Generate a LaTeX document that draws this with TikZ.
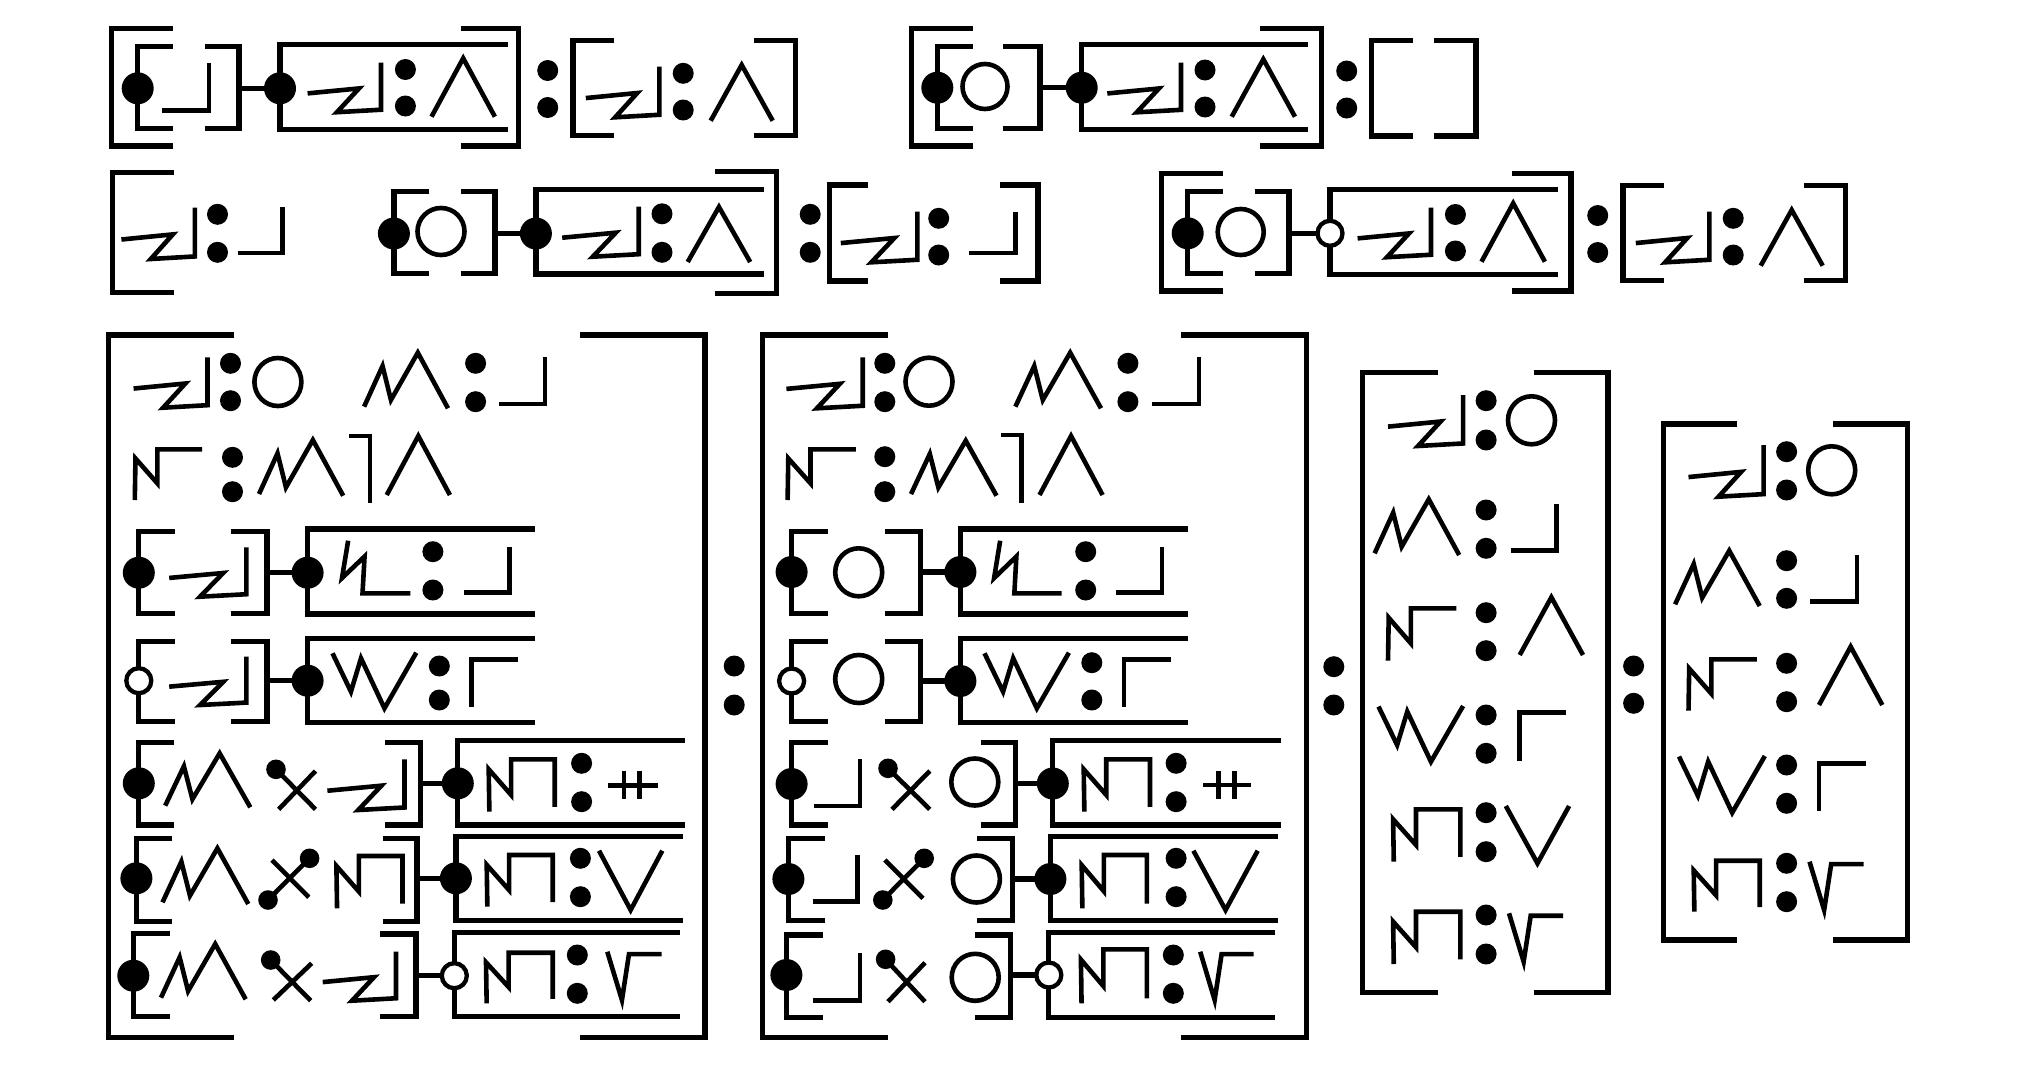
\documentclass[tikz,border=0pt]{standalone}
\tikzset{
  brk/.style={line width=5.3pt,line join=miter},
  glstroke/.style={line width=4.6pt,line join=miter},
}
\newcommand\mybr[4]{\draw[brk] (#4,#2)--(#1,#2)--(#1,#3)--(#4,#3);}
\newcommand\mycol[3]{\fill (#1,#2) circle[radius=10.5pt] (#1,#3) circle[radius=10.5pt];}
\newcommand\fdot[2]{\fill (#1,#2) circle[radius=16pt];}
\newcommand\hdot[2]{\draw[line width=4.3pt,fill=white] (#1,#2) circle[radius=12.5pt];}
\newcommand\ball[2]{\fill (#1,#2) circle[radius=9.8pt];}
\newcommand\ring[4]{\draw[glstroke] (#1,#2) ellipse[x radius=#3pt,y radius=#4pt];}
\newcommand\gZig[4]{\draw[glstroke,shift={(#1,#2)},xscale=#3,yscale=#4] (0,0.62)--(0.70,0.52)--(0.40,1)--(1,0.95)--(1,0);}
\newcommand\gM[4]{\draw[glstroke,shift={(#1,#2)},xscale=#3,yscale=#4] (0,0.97)--(0.22,0.24)--(0.32,0.85)--(0.64,0)--(1,1);}
\newcommand\gNbar[4]{\draw[glstroke,shift={(#1,#2)},xscale=#3,yscale=#4] (0,1)--(0.01,0.18)--(0.335,0.67)--(0.335,0)--(1,0);}
\newcommand\gNcap[4]{\draw[glstroke,shift={(#1,#2)},xscale=#3,yscale=#4] (0.01,1)--(0,0.19)--(0.34,0.68)--(0.34,0)--(1,0)--(1,0.91);}
\newcommand\gBolt[4]{\draw[glstroke,shift={(#1,#2)},xscale=#3,yscale=#4] (0.09,0)--(0,0.71)--(0.33,0.30)--(0.30,1)--(1,1);}
\newcommand\gW[4]{\draw[glstroke,shift={(#1,#2)},xscale=#3,yscale=#4] (0,0.01)--(0.22,0.70)--(0.34,0.10)--(0.62,1)--(1,0);}
\newcommand\gLam[4]{\draw[glstroke,shift={(#1,#2)},xscale=#3,yscale=#4] (0,1)--(0.5,0)--(1,1);}
\newcommand\gV[4]{\draw[glstroke,shift={(#1,#2)},xscale=#3,yscale=#4] (0,0)--(0.5,1)--(1,0);}
\newcommand\gSqrt[4]{\draw[glstroke,shift={(#1,#2)},xscale=#3,yscale=#4] (0,0)--(0.27,1)--(0.40,0.05)--(1,0.05);}
\begin{document}
\begin{tikzpicture}[x=1pt,y=-1pt]
\fill[white] (0,0) rectangle (2031,1079);
\useasboundingbox (0,0) rectangle (2031,1079);

% ===== Row 1, group A =====
\mybr{111.5}{28.3}{146}{172.5}
\mybr{518.8}{28.3}{146}{460.5}
\mybr{137.7}{46.7}{128.3}{172.5}
\draw[glstroke] (162,110.3)--(208.8,110.3)--(208.8,62.7);
\mybr{239.1}{46.7}{128.3}{204.7}
\draw[brk] (239.1,88.3)--(280,88.3);
\mybr{280}{44.5}{129.3}{507.7}
\fdot{137.7}{88.3} \fdot{280}{88.3}
\gZig{307.6}{62.7}{73.4}{49.5}
\mycol{405.4}{69.5}{106}
\gLam{431.5}{58.3}{63.4}{58.4}
\mycol{547.7}{70.5}{107.5}
\mybr{573}{40.7}{135.8}{614.3}
\gZig{585.8}{66.7}{73.5}{50.6}
\mycol{683.2}{73.3}{110}
\gLam{710.7}{65}{62}{55.7}
\mybr{795.7}{40.7}{135.8}{754.3}

% ===== Row 1, group B =====
\mybr{911.7}{28.3}{146}{972.7}
\mybr{1321.7}{28.3}{146}{1260}
\mybr{937.3}{46.7}{128.3}{972.7}
\ring{985}{86.5}{22.5}{22.5}
\mybr{1040}{46.7}{128.3}{1003.3}
\draw[brk] (1040,87.7)--(1081.7,87.7);
\mybr{1081.7}{44.8}{129.2}{1308.3}
\fdot{937.3}{87.7} \fdot{1081.7}{87.7}
\gZig{1107.3}{62.7}{73.7}{49.6}
\mycol{1205}{70}{107}
\gLam{1231.7}{59.3}{63.3}{57.4}
\mycol{1346.7}{71}{108}
\mybr{1371.7}{40.7}{136}{1412.8}
\mybr{1476}{40.7}{136}{1433.9}

% ===== Row 2, group C =====
\mybr{112.2}{172.5}{292.7}{173.5}
\gZig{121.4}{207.7}{73.5}{51.3}
\mycol{217.5}{214.3}{252.3}
\draw[glstroke] (237.7,253)--(282.4,253)--(282.4,206.7);

% ===== Row 2, group D =====
\mybr{393.9}{191.7}{273.3}{429.4}
\ring{441}{231.5}{23.5}{23.5}
\mybr{494.9}{191.7}{273.3}{461.2}
\draw[brk] (494.9,233.5)--(535.9,233.5);
\mybr{535.9}{189.5}{274}{764.2}
\fdot{393.9}{233.5} \fdot{535.9}{233.5}
\gZig{562.2}{206.7}{76.5}{50}
\mycol{662}{213.8}{252.3}
\gLam{687.7}{207}{62.5}{55}
\mybr{776.5}{171.7}{293.3}{715.3}
\mycol{810.2}{214.3}{252.3}
\mybr{829.8}{185}{281}{868.3}
\gZig{840.8}{211.7}{76.5}{50.6}
\mycol{938.7}{218.3}{255}
\draw[glstroke] (969.3,253)--(1015.2,253)--(1015.2,211.7);
\mybr{1037.9}{185}{281}{999.9}

% ===== Row 2, group E =====
\begin{scope}[shift={(1050,145)}]
\mybr{111.5}{28.3}{146}{172.5}
\mybr{521}{28.3}{146}{462}
\mybr{137.7}{46.7}{128.3}{172.5}
\ring{190.7}{87}{23}{23}
\mybr{239.1}{46.7}{128.3}{204.7}
\draw[brk] (239.1,88.3)--(280,88.3);
\mybr{280}{44.5}{129.3}{507.7}
\fdot{137.7}{88.3} \hdot{280}{88.3}
\gZig{307.6}{62.7}{73.4}{49.5}
\mycol{405.4}{69.5}{106}
\gLam{431.5}{58.3}{63.4}{58.4}
\mycol{547.7}{70.5}{107.5}
\mybr{573}{40.7}{135.8}{614.3}
\gZig{585.8}{66.7}{73.5}{50.6}
\mycol{683.2}{73.3}{110}
\gLam{710.7}{65}{62}{55.7}
\mybr{795.7}{40.7}{135.8}{754.3}
\end{scope}

% ===== Panel 1 =====
\mybr{108.7}{335}{1037.5}{234.4}
\mybr{705}{335}{1037.5}{580.4}
% row 1
\gZig{133.6}{357.3}{73.9}{50.4}
\mycol{230.5}{363.3}{400.7}
\ring{277.9}{382}{23.5}{24}
\gM{364.1}{352.7}{83.9}{55.6}
\mycol{475.6}{363.3}{401.7}
\draw[glstroke] (499.4,404)--(544.8,404)--(544.8,357.3);
% row 2
\gNbar{134.8}{449.3}{67.2}{50.7}
\mycol{232.5}{457.3}{491.7}
\gM{259}{440}{84.2}{55.7}
\draw[glstroke] (349.1,436)--(370.1,436)--(370.1,502.7);
\gLam{386.7}{436}{63.2}{59}
% row 3
\mybr{138.8}{531.7}{613.3}{175.1}
\gZig{169.2}{547.3}{77.1}{49.4}
\mybr{266.9}{531.7}{613.3}{231.3}
\draw[brk] (266.9,572.7)--(307.6,572.7);
\mybr{307.6}{529}{614}{535}
\fdot{138.8}{572.7} \fdot{307.6}{572.7}
\gBolt{342}{540.7}{68.4}{52.6}
\mycol{432.9}{551.7}{590}
\draw[glstroke] (463.8,592.7)--(509.2,592.7)--(509.2,546.7);
% row 4
\mybr{138.8}{641.7}{721.7}{175.1}
\gZig{169.2}{656.7}{77.1}{48.3}
\mybr{266.9}{641.7}{721.7}{231.3}
\draw[brk] (266.9,680.7)--(307.6,680.7);
\mybr{307.6}{638.5}{722.7}{535}
\hdot{138.8}{680.7} \fdot{307.6}{680.7}
\gW{332.5}{652.7}{83.8}{55.6}
\mycol{439.3}{666}{700}
\draw[glstroke] (471.7,706.7)--(471.7,659.3)--(518.3,659.3);
% row 5
\mybr{138.8}{742.7}{825}{174.3}
\gM{165.2}{753.3}{85.1}{54}
\draw[glstroke] (276,769.3)--(315.5,809.3) (278.7,809.3)--(315.5,771);
\ball{276}{769.3}
\gZig{327.4}{759.3}{77.1}{50.7}
\mybr{420.3}{742.7}{825}{384.7}
\draw[brk] (420.3,783.3)--(457.8,783.3);
\mybr{457.8}{740.7}{825}{685.2}
\fdot{138.8}{783.3} \fdot{457.8}{783.3}
\gNcap{488.7}{759.3}{66}{52.4}
\mycol{581.6}{763.3}{801.7}
\draw[glstroke] (623.9,771)--(623.9,799.3) (639.7,771)--(639.7,799.3) (608.1,785.7)--(657.5,785.7);
% row 6
\mybr{136.4}{838.3}{921.7}{172.4}
\gM{162.5}{848.3}{85.8}{55.7}
\draw[glstroke] (272,860)--(308.8,897.3) (268,900)--(309.6,858.3);
\ball{268}{900} \ball{309.6}{858.3}
\gNcap{336.4}{856}{66.1}{52.3}
\mybr{417.1}{838.3}{921.7}{382.7}
\draw[brk] (417.1,878.3)--(455.9,878.3);
\mybr{455.9}{836.7}{920.7}{683.2}
\fdot{136.4}{878.3} \fdot{455.9}{878.3}
\gNcap{486.7}{855}{66}{51.7}
\mycol{580.4}{858.3}{896.7}
\gV{599}{850.7}{63.3}{59.3}
% row 7
\mybr{133.3}{933.3}{1016.7}{170}
\gM{161}{944}{84.7}{55.3}
\draw[glstroke] (270.7,960)--(310.7,1000.7) (273.3,1000)--(311.7,963.3);
\ball{270.7}{960}
\gZig{322.7}{951.7}{73.3}{49}
\mybr{416}{934}{1016.7}{380}
\draw[brk] (416,975.7)--(454.3,975.7);
\mybr{454.3}{932.7}{1016.7}{680.4}
\fdot{133.3}{975.7} \hdot{454.3}{975.7}
\gNcap{486}{952.7}{66.7}{50.6}
\mycol{577.3}{955}{993.3}
\gSqrt{607.3}{951.7}{54.2}{48.3}

\mycol{734.2}{666}{705}

% ===== Panel 2 =====
\mybr{762.3}{335}{1037.5}{888}
\mybr{1306.7}{335}{1037.5}{1181.4}
% row 1
\gZig{786.4}{357.3}{76.3}{51}
\mycol{884.8}{363.3}{401.7}
\ring{929}{381.7}{23.5}{24}
\gM{1015.4}{352.7}{85.6}{55.6}
\mycol{1127.9}{363.3}{401.7}
\draw[glstroke] (1152,404)--(1199,404)--(1199,357.3);
% row 2
\gNbar{787.6}{449.3}{68.3}{50.7}
\mycol{884.8}{456.7}{491.7}
\gM{911}{440.7}{85.5}{55}
\draw[glstroke] (1001.4,435)--(1021.4,435)--(1021.4,502.7);
\gLam{1039.5}{436}{63.1}{59}
% row 3
\mybr{791.6}{531.7}{613.3}{827.8}
\ring{858.7}{572.3}{23.5}{24}
\mybr{920.2}{531.7}{613.3}{884.8}
\draw[brk] (920.2,572)--(960.4,572);
\mybr{960.4}{529}{614}{1188.2}
\fdot{791.6}{572} \fdot{960.4}{572}
\gBolt{994.1}{540.7}{67.5}{52.6}
\mycol{1085.7}{551.7}{590}
\draw[glstroke] (1115.9,592.7)--(1162,592.7)--(1162,546.7);
% row 4
\mybr{791.6}{641.7}{721.7}{827.8}
\ring{858.7}{679}{23.5}{24}
\mybr{920.2}{641.7}{721.7}{884.8}
\draw[brk] (920.2,681)--(960.4,681);
\mybr{960.4}{638.5}{722.7}{1188.2}
\hdot{791.6}{681} \fdot{960.4}{681}
\gW{984.5}{652.7}{84.4}{55.6}
\mycol{1091.8}{662.7}{700}
\draw[glstroke] (1123.9,706.7)--(1123.9,659.3)--(1170.9,659.3);
% row 5
\mybr{791.6}{742.7}{825}{827.8}
\draw[glstroke] (813.7,806)--(859.9,806)--(859.9,759.3);
\draw[glstroke] (888,768.3)--(929.8,809.3) (892,809.3)--(929.8,771);
\ball{888}{768.3}
\ring{974.8}{782}{23.5}{23.5}
\mybr{1015.4}{742.7}{825}{980.5}
\draw[brk] (1015.4,783.5)--(1052.8,783.5);
\mybr{1052.8}{740.7}{825}{1280.6}
\fdot{791.6}{784} \fdot{1052.8}{783.5}
\gNcap{1083.7}{759.3}{66.3}{52.4}
\mycol{1176.1}{763.3}{801.7}
\draw[glstroke] (1218.3,771)--(1218.3,799.3) (1234.4,771)--(1234.4,799.3) (1203.1,785)--(1251.3,785);
% row 6
\mybr{788.4}{838.3}{920.7}{824.6}
\draw[glstroke] (812.5,901.7)--(857.5,901.7)--(857.5,855);
\draw[glstroke] (884.8,860)--(923,898.3) (882.8,900)--(924.2,858.3);
\ball{882.8}{900} \ball{924.2}{858.3}
\ring{976.4}{879}{23.5}{23.5}
\mybr{1012.6}{838.3}{920.7}{977.2}
\draw[brk] (1012.6,879)--(1050.4,879);
\mybr{1050.4}{836.7}{920.7}{1277.8}
\fdot{788.4}{879} \fdot{1050.4}{879}
\gNcap{1081.7}{855}{65.1}{53.3}
\mycol{1176.1}{858.3}{896.7}
\gV{1193.4}{850.7}{64.3}{59.3}
% row 7
\mybr{786.4}{935}{1017.3}{822.5}
\draw[glstroke] (813.3,1000.7)--(859.9,1000.7)--(859.9,953.3);
\draw[glstroke] (885.6,959.3)--(925,1001.7) (888,1001.7)--(925,962.7);
\ball{885.6}{959.3}
\ring{975.2}{977.3}{23.5}{23.5}
\mybr{1010.2}{935}{1017.3}{975.2}
\draw[brk] (1010.2,975)--(1048.8,975);
\mybr{1048.8}{932.7}{1017.3}{1275.4}
\fdot{786.4}{975} \hdot{1048.8}{975}
\gNcap{1080.9}{949.3}{65.9}{54}
\mycol{1173.3}{955}{993.3}
\gSqrt{1200.2}{951.7}{53.5}{48.3}

\mycol{1333.8}{666.7}{705}

% ===== Panel 3 =====
\mybr{1362.7}{372.7}{992.7}{1437.8}
\mybr{1607.9}{372.7}{992.7}{1533.5}
\gZig{1388}{395}{75.1}{51}
\mycol{1486.1}{400.7}{440}
\ring{1531.5}{420.3}{23.5}{24}
\gM{1374.6}{499.3}{84.6}{55.7}
\mycol{1486.1}{510}{548.3}
\draw[glstroke] (1510.6,550.7)--(1556.5,550.7)--(1556.5,504);
\gNbar{1388}{608.3}{68.4}{52.4}
\mycol{1486.1}{612.7}{650.7}
\gLam{1519.7}{597.3}{63.3}{57.7}
\gW{1378.5}{706}{84.6}{55.7}
\mycol{1486.1}{715}{753.3}
\draw[glstroke] (1519.7,760.7)--(1519.7,712.7)--(1565.9,712.7);
\gNcap{1393.1}{809.3}{67.3}{52.4}
\mycol{1486.1}{812.7}{851.7}
\gV{1505.8}{806}{63.3}{57.3}
\gNcap{1393.1}{911.7}{67.3}{52.3}
\mycol{1486.1}{915}{954}
\gSqrt{1509}{913.3}{54.2}{48.4}

\mycol{1633.6}{666}{703.3}

% ===== Panel 4 =====
\mybr{1663.2}{424}{940}{1737.1}
\mybr{1907.2}{424}{940}{1833.2}
\gZig{1688.5}{445}{75.1}{51.7}
\mycol{1786.6}{451.7}{490}
\ring{1831.7}{470.3}{23.5}{24}
\gM{1675.1}{550.7}{84.6}{55.3}
\mycol{1786.6}{560.7}{598.3}
\draw[glstroke] (1810.3,601.7)--(1857,601.7)--(1857,555);
\gNbar{1688.5}{659.3}{68.4}{51.4}
\mycol{1786.6}{663.3}{701.7}
\gLam{1819}{646.7}{63.3}{58.3}
\gW{1679}{756}{85.8}{56.7}
\mycol{1786.6}{765}{803.3}
\draw[glstroke] (1819,810.7)--(1819,763.3)--(1865.7,763.3);
\gNcap{1693.7}{860.7}{66}{51}
\mycol{1786.6}{863.3}{901.7}
\gSqrt{1809.5}{861.7}{54.2}{48.3}
\end{tikzpicture}
\end{document}
